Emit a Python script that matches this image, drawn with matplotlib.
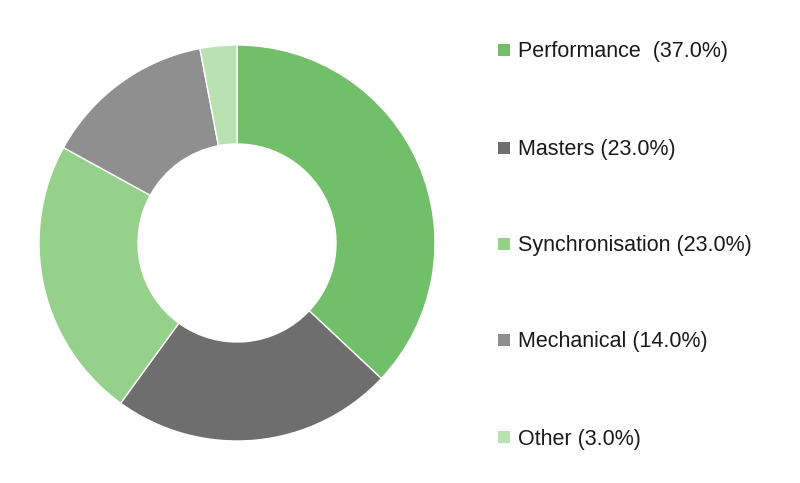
import matplotlib.pyplot as plt
from matplotlib.patches import Rectangle

plt.rcParams['font.family'] = ['Liberation Sans Narrow', 'Liberation Sans', 'DejaVu Sans']

# revenue split by source
labels = ['Performance ', 'Masters', 'Synchronisation', 'Mechanical', 'Other']
shares = [37.0, 23.0, 23.0, 14.0, 3.0]
colors = ['#72bf69', '#6e6e6e', '#95d18b', '#8f8f8f', '#b9e1b2']

W, H = 800, 483
fig = plt.figure(figsize=(W / 100, H / 100), dpi=100)

# donut: centre (237, 243), outer radius 198 px
ax = fig.add_axes([39 / W, 42 / H, 396 / W, 396 / H])
ax.pie(shares, colors=colors, startangle=90, counterclock=False,
       radius=1, wedgeprops=dict(width=0.5, edgecolor='white', linewidth=1))
ax.set_xlim(-1, 1)
ax.set_ylim(-1, 1)
ax.set_aspect('equal')
ax.axis('off')

# legend on the right, one row per slice
row_y = [50, 148, 244, 340, 437]
for lab, val, col, y in zip(labels, shares, colors, row_y):
    sq = 12
    fig.patches.append(Rectangle((498 / W, (H - y - sq / 2) / H), sq / W, sq / H,
                                 transform=fig.transFigure, facecolor=col,
                                 edgecolor='none'))
    fig.text(518 / W, (H - y - 2) / H, '%s (%.1f%%)' % (lab, val), fontsize=15.5,
             va='center', ha='left', color='#1a1a1a')

fig.savefig('out.png', dpi=100)
